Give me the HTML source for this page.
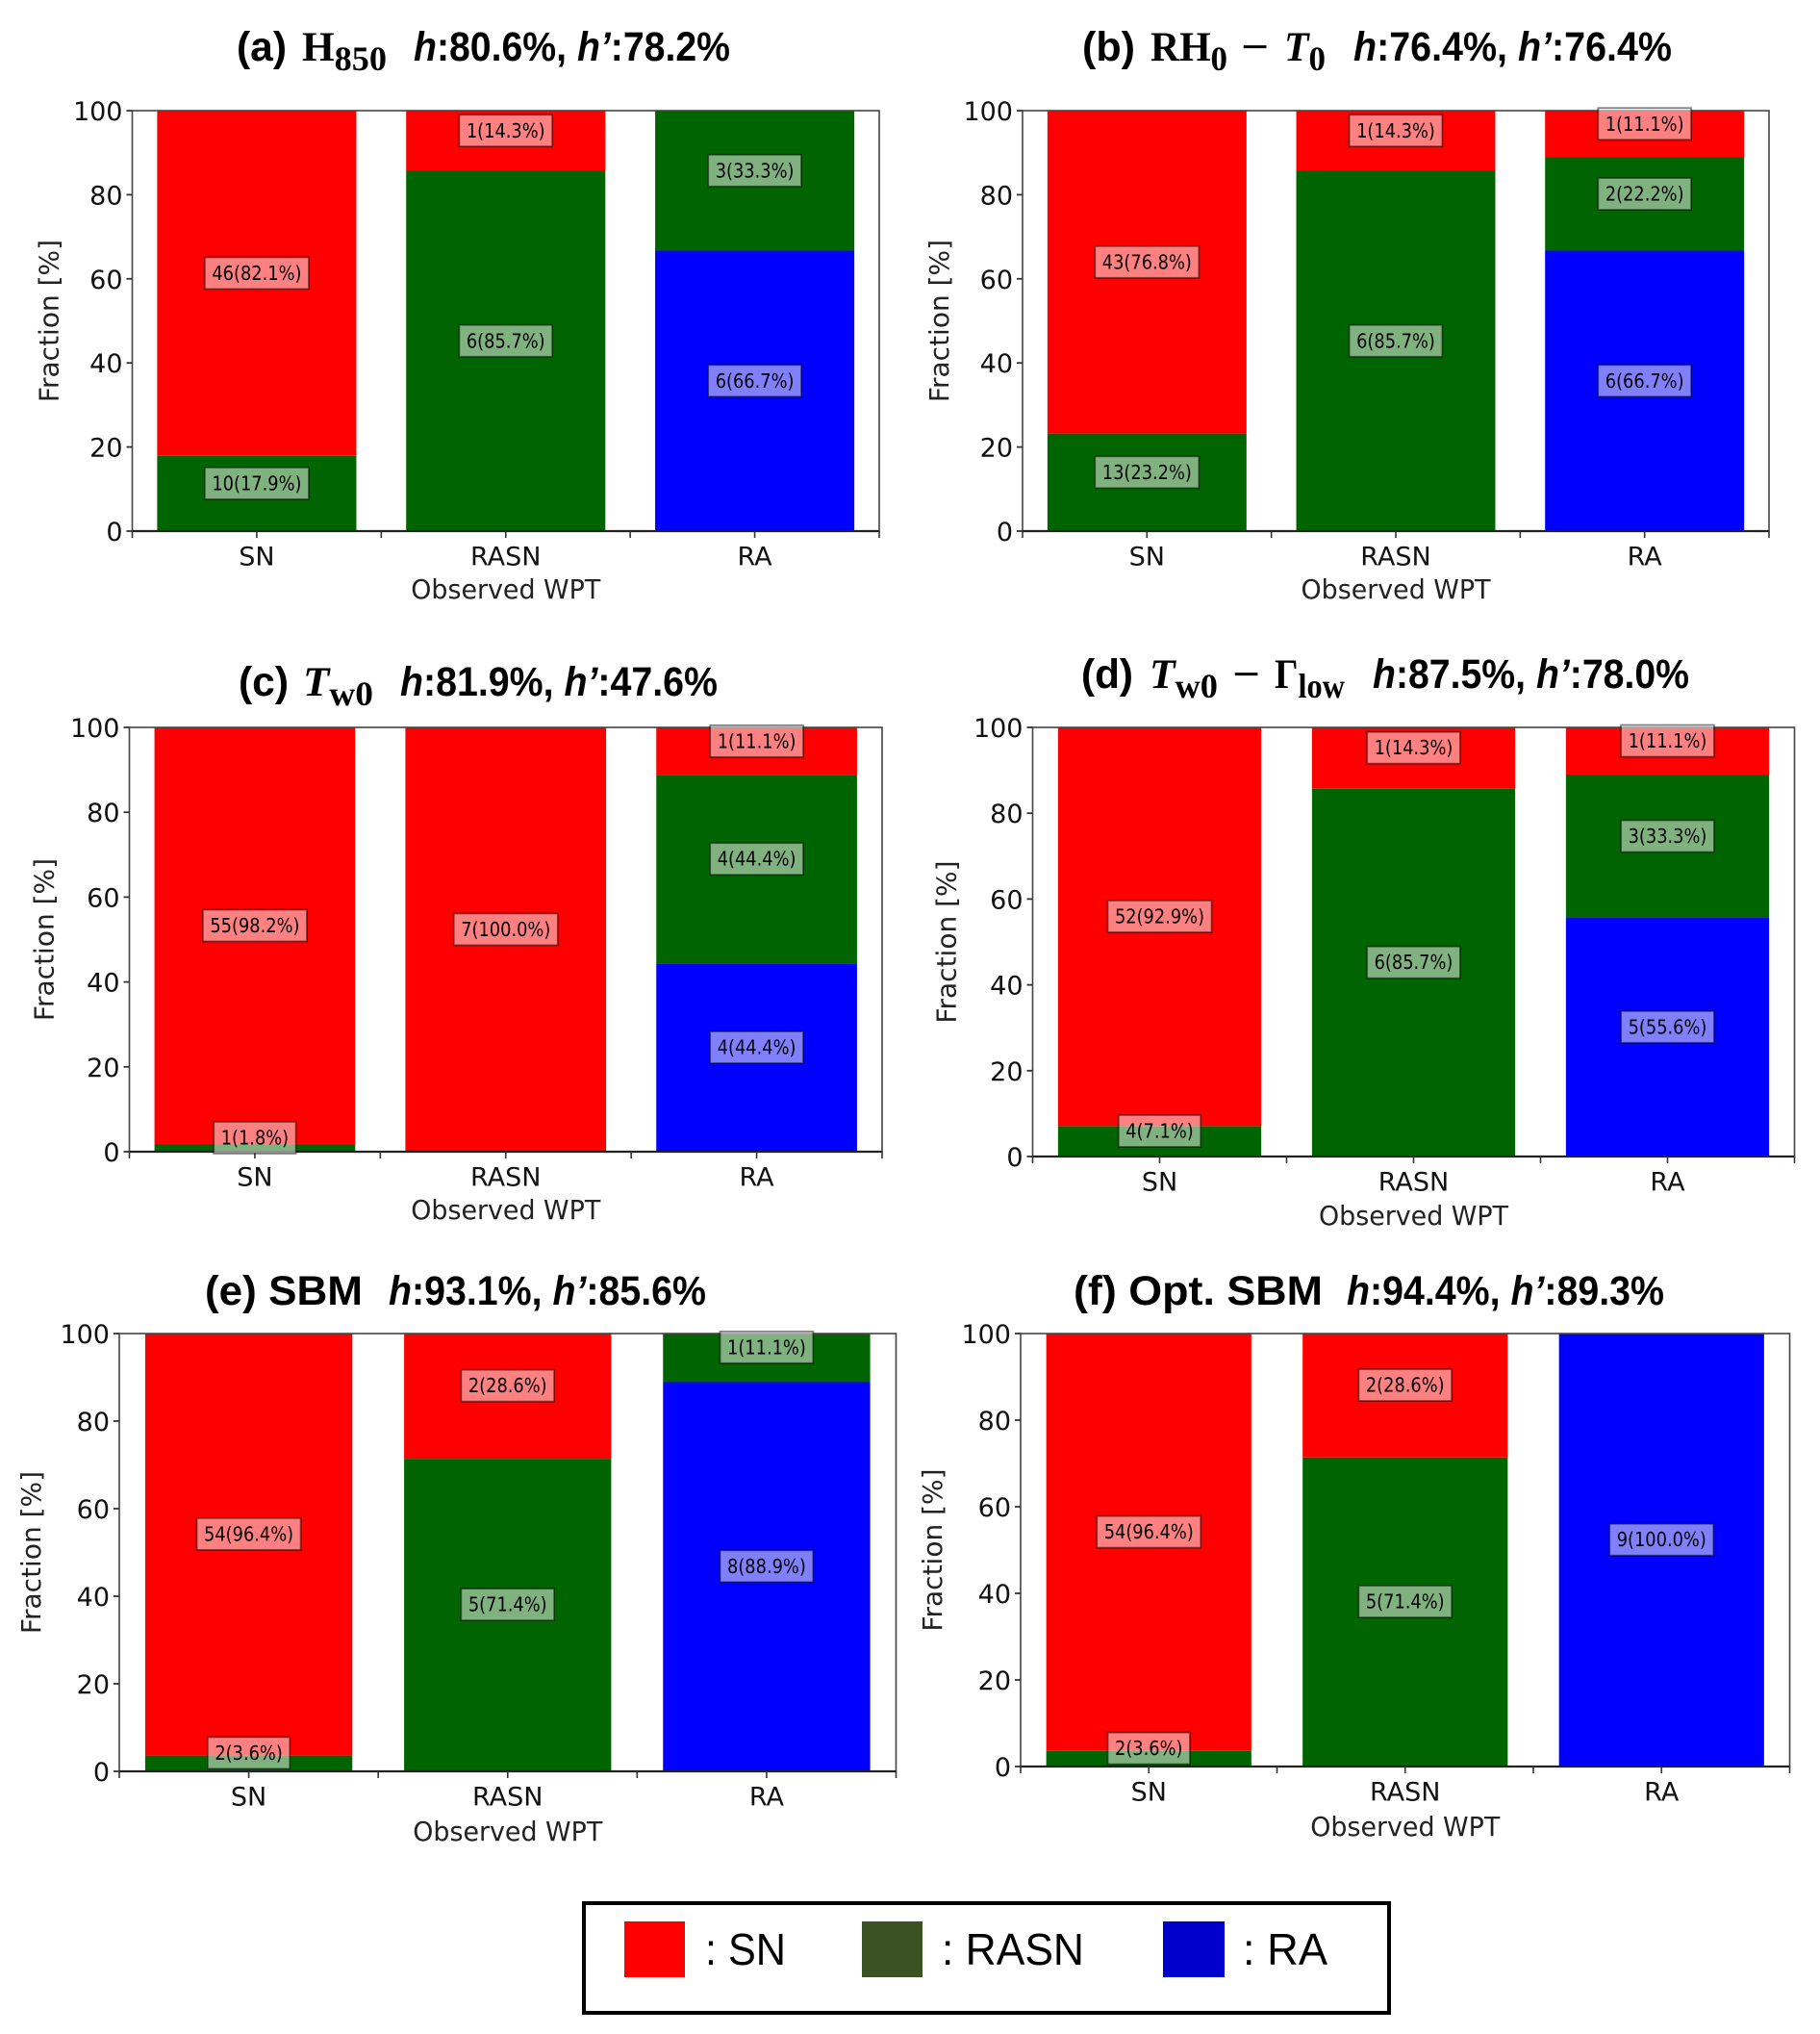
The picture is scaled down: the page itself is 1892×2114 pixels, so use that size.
<!DOCTYPE html>
<html lang="en">
<head>
<meta charset="utf-8">
<title>Observed WPT fraction panels</title>
<style>
html,body{margin:0;padding:0;background:#fff;}
svg{display:block;}
.ttl{font-family:"Liberation Sans",sans-serif;font-weight:700;font-size:43px;fill:#000;}
.mth{font-family:"Liberation Serif",serif;font-weight:700;font-size:43px;fill:#000;}
.sub{font-size:36px;}
.leg{font-family:"Liberation Sans",sans-serif;font-size:46px;fill:#000;}
.tick{font-family:"DejaVu Sans",sans-serif;font-size:27px;fill:#111;}
.lab{font-family:"DejaVu Sans",sans-serif;font-size:28px;fill:#222;}
.bar-label{font-family:"DejaVu Sans",sans-serif;font-size:20px;fill:#000;}
</style>
</head>
<body>
<svg id="figure" xmlns="http://www.w3.org/2000/svg" width="1892" height="2114" viewBox="0 0 1892 2114">
<rect x="0" y="0" width="1892" height="2114" fill="#fff"/>

<g>
<text class="ttl" x="246" y="63" textLength="52" lengthAdjust="spacingAndGlyphs">(a)</text>
<text class="mth" x="314" y="63" textLength="88" lengthAdjust="spacingAndGlyphs">H<tspan class="sub" dy="10">850</tspan></text>
<text class="ttl" x="430" y="63" textLength="329" lengthAdjust="spacingAndGlyphs"><tspan font-style="italic">h</tspan>:80.6%, <tspan font-style="italic">h’</tspan>:78.2%</text>
</g>
<g>
<text class="ttl" x="1125" y="63" textLength="55" lengthAdjust="spacingAndGlyphs">(b)</text>
<text class="mth" x="1196" y="63" textLength="80" lengthAdjust="spacingAndGlyphs">RH<tspan class="sub" dy="10">0</tspan></text>
<text class="mth" x="1290" y="63" textLength="29" lengthAdjust="spacingAndGlyphs">−</text>
<text class="mth" x="1335" y="63" textLength="43" lengthAdjust="spacingAndGlyphs"><tspan font-style="italic">T</tspan><tspan class="sub" dy="10">0</tspan></text>
<text class="ttl" x="1407" y="63" textLength="331" lengthAdjust="spacingAndGlyphs"><tspan font-style="italic">h</tspan>:76.4%, <tspan font-style="italic">h’</tspan>:76.4%</text>
</g>
<g>
<text class="ttl" x="248" y="723" textLength="52" lengthAdjust="spacingAndGlyphs">(c)</text>
<text class="mth" x="315" y="723" textLength="73" lengthAdjust="spacingAndGlyphs"><tspan font-style="italic">T</tspan><tspan class="sub" dy="10">w0</tspan></text>
<text class="ttl" x="416" y="723" textLength="330" lengthAdjust="spacingAndGlyphs"><tspan font-style="italic">h</tspan>:81.9%, <tspan font-style="italic">h’</tspan>:47.6%</text>
</g>
<g>
<text class="ttl" x="1124" y="715" textLength="54" lengthAdjust="spacingAndGlyphs">(d)</text>
<text class="mth" x="1195" y="715" textLength="71" lengthAdjust="spacingAndGlyphs"><tspan font-style="italic">T</tspan><tspan class="sub" dy="10">w0</tspan></text>
<text class="mth" x="1281" y="715" textLength="29" lengthAdjust="spacingAndGlyphs">−</text>
<text class="mth" x="1325" y="715" textLength="73" lengthAdjust="spacingAndGlyphs">Γ<tspan class="sub" dy="10">low</tspan></text>
<text class="ttl" x="1427" y="715" textLength="329" lengthAdjust="spacingAndGlyphs"><tspan font-style="italic">h</tspan>:87.5%, <tspan font-style="italic">h’</tspan>:78.0%</text>
</g>
<g>
<text class="ttl" x="213" y="1356" textLength="164" lengthAdjust="spacingAndGlyphs">(e) SBM</text>
<text class="ttl" x="404" y="1356" textLength="330" lengthAdjust="spacingAndGlyphs"><tspan font-style="italic">h</tspan>:93.1%, <tspan font-style="italic">h’</tspan>:85.6%</text>
</g>
<g>
<text class="ttl" x="1116" y="1356" textLength="259" lengthAdjust="spacingAndGlyphs">(f) Opt. SBM</text>
<text class="ttl" x="1400" y="1356" textLength="330" lengthAdjust="spacingAndGlyphs"><tspan font-style="italic">h</tspan>:94.4%, <tspan font-style="italic">h’</tspan>:89.3%</text>
</g>

<g id="panels"></g>

<g>
<rect x="607" y="1978" width="837" height="114" fill="#fff" stroke="#000" stroke-width="4"/>
<rect x="649" y="1997" width="63" height="58" fill="#ff0000"/>
<text class="leg" x="733" y="2042" textLength="84" lengthAdjust="spacingAndGlyphs">: SN</text>
<rect x="896" y="1997" width="63" height="58" fill="#3b5323"/>
<text class="leg" x="979" y="2042" textLength="148" lengthAdjust="spacingAndGlyphs">: RASN</text>
<rect x="1209" y="1997" width="64" height="58" fill="#0000cc"/>
<text class="leg" x="1292" y="2042" textLength="88" lengthAdjust="spacingAndGlyphs">: RA</text>
</g>
</svg>

<script>
const categories = ['SN', 'RASN', 'RA'];
const yTicks = [0, 20, 40, 60, 80, 100];

const redPctA = [82.1, 14.3, 0];
const greenPctA = [17.9, 85.7, 33.3];
const bluePctA = [0, 0, 66.7];
const redCountA = [46, 1, 0];
const greenCountA = [10, 6, 3];
const blueCountA = [0, 0, 6];

const redPctB = [76.8, 14.3, 11.1];
const greenPctB = [23.2, 85.7, 22.2];
const bluePctB = [0, 0, 66.7];
const redCountB = [43, 1, 1];
const greenCountB = [13, 6, 2];
const blueCountB = [0, 0, 6];

const redPctC = [98.2, 100, 11.1];
const greenPctC = [1.8, 0, 44.4];
const bluePctC = [0, 0, 44.4];
const redCountC = [55, 7, 1];
const greenCountC = [1, 0, 4];
const blueCountC = [0, 0, 4];

const redPctD = [92.9, 14.3, 11.1];
const greenPctD = [7.1, 85.7, 33.3];
const bluePctD = [0, 0, 55.6];
const redCountD = [52, 1, 1];
const greenCountD = [4, 6, 3];
const blueCountD = [0, 0, 5];

const redPctE = [96.4, 28.6, 0];
const greenPctE = [3.6, 71.4, 11.1];
const bluePctE = [0, 0, 88.9];
const redCountE = [54, 2, 0];
const greenCountE = [2, 5, 1];
const blueCountE = [0, 0, 8];

const redPctF = [96.4, 28.6, 0];
const greenPctF = [3.6, 71.4, 0];
const bluePctF = [0, 0, 100];
const redCountF = [54, 2, 0];
const greenCountF = [2, 5, 0];
const blueCountF = [0, 0, 9];

const panels = [
  {id: 'a', left: 137.5, right: 914, top: 115, bottom: 552, yTitleGap: 77, xTitleGap: 70, red: redPctA, green: greenPctA, blue: bluePctA, redN: redCountA, greenN: greenCountA, blueN: blueCountA},
  {id: 'b', left: 1063, right: 1839, top: 115, bottom: 552, yTitleGap: 77, xTitleGap: 70, red: redPctB, green: greenPctB, blue: bluePctB, redN: redCountB, greenN: greenCountB, blueN: blueCountB},
  {id: 'c', left: 134.5, right: 917, top: 756, bottom: 1197, yTitleGap: 79, xTitleGap: 70, red: redPctC, green: greenPctC, blue: bluePctC, redN: redCountC, greenN: greenCountC, blueN: blueCountC},
  {id: 'd', left: 1073.5, right: 1865.5, top: 756, bottom: 1202, yTitleGap: 80, xTitleGap: 71, red: redPctD, green: greenPctD, blue: bluePctD, redN: redCountD, greenN: greenCountD, blueN: blueCountD},
  {id: 'e', left: 124, right: 931.5, top: 1386, bottom: 1841, yTitleGap: 82, xTitleGap: 72, red: redPctE, green: greenPctE, blue: bluePctE, redN: redCountE, greenN: greenCountE, blueN: blueCountE},
  {id: 'f', left: 1061, right: 1860.5, top: 1386, bottom: 1836, yTitleGap: 82, xTitleGap: 72, red: redPctF, green: greenPctF, blue: bluePctF, redN: redCountF, greenN: greenCountF, blueN: blueCountF}
];

const NS = 'http://www.w3.org/2000/svg';
const root = document.getElementById('panels');

function make(tag, attrs, parent) {
  const el = document.createElementNS(NS, tag);
  for (const k in attrs) el.setAttribute(k, attrs[k]);
  parent.appendChild(el);
  return el;
}

panels.forEach(function (p) {
  const g = make('g', {}, root);
  
  

  const slot = (p.right - p.left) / categories.length;
  const xCenter = function (i) { return p.left + slot * (i + 0.5); };
  const y = function (v) { return p.bottom - (p.bottom - p.top) * v / 100; };
  const barW = slot * 0.8;

  const labelLayer = [];
  categories.forEach(function (cat, i) {
    const stack = [
      {key: 'ra', color: '#0000ff', pct: p.blue[i], n: p.blueN[i]},
      {key: 'rasn', color: '#006400', pct: p.green[i], n: p.greenN[i]},
      {key: 'sn', color: '#ff0000', pct: p.red[i], n: p.redN[i]}
    ];
    let base = 0;
    stack.forEach(function (s) {
      if (s.pct <= 0) return;
      const top = base + s.pct;
      const bar = make('rect', {x: xCenter(i) - barW / 2, y: y(top), width: barW, height: y(base) - y(top), fill: s.color}, g);
      
      
      labelLayer.push({x: xCenter(i), v: (base + top) / 2 + 2.4, text: s.n + '(' + s.pct.toFixed(1) + '%)', name: cat.toLowerCase() + '-' + s.key});
      base = top;
    });
  });

  const spines = make('rect', {x: p.left, y: p.top, width: p.right - p.left, height: p.bottom - p.top, fill: 'none', stroke: '#444', 'stroke-width': 1.6}, g);
  
  

  const baseline = make('line', {x1: p.left, x2: p.right, y1: p.bottom, y2: p.bottom, stroke: '#222', 'stroke-width': 2.2}, g);
  
  

  yTicks.forEach(function (t) {
    const mark = make('line', {x1: p.left - 6, x2: p.left, y1: y(t), y2: y(t), stroke: '#333', 'stroke-width': 1.8}, g);
    
    
    const tl = make('text', {x: p.left - 10, y: y(t) + 10, 'text-anchor': 'end', 'class': 'tick'}, g);
    
    
    tl.textContent = t;
  });

  for (let i = 0; i <= categories.length; i++) {
    const bx = p.left + slot * i;
    const minor = make('line', {x1: bx, x2: bx, y1: p.bottom, y2: p.bottom + 7, stroke: '#333', 'stroke-width': 1.6}, g);
    
    
  }

  categories.forEach(function (cat, i) {
    const major = make('line', {x1: xCenter(i), x2: xCenter(i), y1: p.bottom, y2: p.bottom + 7, stroke: '#333', 'stroke-width': 1.6}, g);
    
    
    const cl = make('text', {x: xCenter(i), y: p.bottom + 35.5, 'text-anchor': 'middle', 'class': 'tick'}, g);
    
    
    cl.textContent = cat;
  });

  const xt = make('text', {x: (p.left + p.right) / 2, y: p.bottom + p.xTitleGap, 'text-anchor': 'middle', 'class': 'lab', textLength: 197, lengthAdjust: 'spacingAndGlyphs'}, g);
  
  
  xt.textContent = 'Observed WPT';

  const yMid = (p.top + p.bottom) / 2;
  const yt = make('text', {x: 0, y: 0, 'text-anchor': 'middle', 'class': 'lab', transform: 'translate(' + (p.left - p.yTitleGap) + ' ' + yMid + ') rotate(-90)'}, g);
  
  
  yt.textContent = 'Fraction [%]';

  labelLayer.forEach(function (l) {
    const box = make('rect', {fill: 'rgba(255,255,255,0.5)', stroke: 'rgba(0,0,0,0.5)', 'stroke-width': 1.8}, g);
    
    
    const txt = make('text', {x: l.x, y: y(l.v) + 7, 'text-anchor': 'middle', 'class': 'bar-label'}, g);
    
    
    txt.textContent = l.text;
    const squeezed = txt.getComputedTextLength() * 0.89;
    txt.setAttribute('textLength', squeezed);
    txt.setAttribute('lengthAdjust', 'spacingAndGlyphs');
    const w = squeezed + 15;
    box.setAttribute('x', l.x - w / 2);
    box.setAttribute('y', y(l.v) - 16.5);
    box.setAttribute('width', w);
    box.setAttribute('height', 33);
  });
});
</script>
</body>
</html>
